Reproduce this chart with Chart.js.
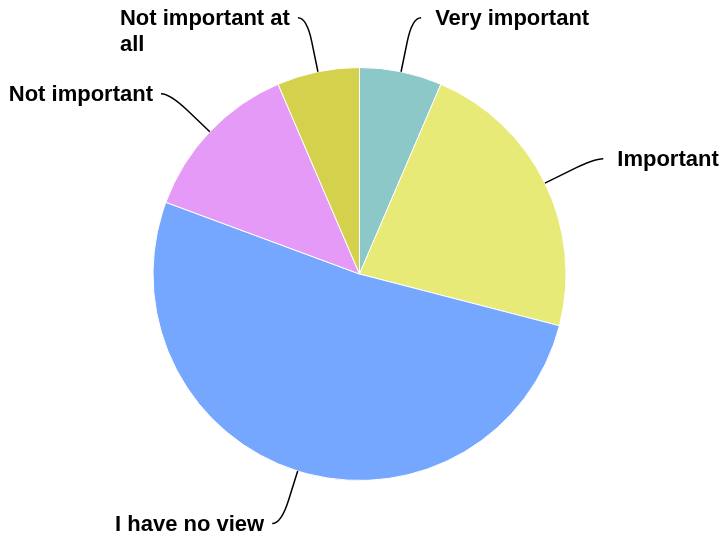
<!DOCTYPE html>
<html>
<head>
<meta charset="utf-8">
<script src="https://cdn.jsdelivr.net/npm/chart.js@4/dist/chart.umd.min.js"></script>
<style>
  html, body { margin: 0; padding: 0; background: #fff; }
  #wrap { width: 720px; height: 540px; position: relative; }
</style>
</head>
<body>
<div id="wrap"><canvas id="chart"></canvas></div>
<script>
// answers (clockwise from 12 o'clock)
const categories = ["Very important", "Important", "I have no view", "Not important", "Not important at all"];
const responses = [2, 7, 16, 4, 2];
const sliceColors = ["#8dc8c9", "#e8ea78", "#75a7ff", "#e59af7", "#d4d24c"];

const labelFont = "bold 22px 'Liberation Sans', Arial, sans-serif";
const lineHeight = 26;
const maxLabelWidth = 180;

// wrap a label into lines no wider than maxLabelWidth
function wrap(ctx, text) {
  const words = text.split(" ");
  const lines = [];
  let cur = "";
  words.forEach(w => {
    const test = cur ? cur + " " + w : w;
    if (cur && ctx.measureText(test).width > maxLabelWidth) {
      lines.push(cur);
      cur = w;
    } else {
      cur = test;
    }
  });
  if (cur) lines.push(cur);
  return lines;
}

// leader lines + labels outside the pie
const outsideLabels = {
  id: "outsideLabels",
  afterDraw(chart) {
    const ctx = chart.ctx;
    const arcs = chart.getDatasetMeta(0).data;
    ctx.save();
    ctx.font = labelFont;
    ctx.textBaseline = "middle";
    arcs.forEach((arc, i) => {
      const { x, y, outerRadius, startAngle, endAngle } = arc.getProps(["x", "y", "outerRadius", "startAngle", "endAngle"], true);
      const mid = (startAngle + endAngle) / 2;
      const cos = Math.cos(mid), sin = Math.sin(mid);
      const right = cos >= 0;
      const p0 = { x: x + cos * outerRadius, y: y + sin * outerRadius };
      const p1 = { x: x + cos * (outerRadius + 30), y: y + sin * (outerRadius + 30) };
      const bend = { x: x + cos * (outerRadius + 55), y: y + sin * (outerRadius + 55) };
      const end = { x: bend.x + (right ? 9 : -9), y: bend.y };

      ctx.beginPath();
      ctx.moveTo(p0.x, p0.y);
      ctx.lineTo(p1.x, p1.y);
      ctx.quadraticCurveTo(bend.x, bend.y, end.x, end.y);
      ctx.strokeStyle = "#000";
      ctx.lineWidth = 1.5;
      ctx.stroke();

      const lines = wrap(ctx, categories[i]);
      const blockW = Math.max(...lines.map(l => ctx.measureText(l).width));
      const gap = right ? 14 : 8;
      const left = right ? end.x + gap : end.x - gap - blockW;
      ctx.fillStyle = "#000";
      ctx.textAlign = "left";
      lines.forEach((l, k) => {
        const lx = (lines.length === 1 && !right) ? end.x - gap - ctx.measureText(l).width : left;
        ctx.fillText(l, lx, end.y + 1 + k * lineHeight);
      });
    });
    ctx.restore();
  }
};

new Chart(document.getElementById("chart"), {
  type: "pie",
  data: {
    labels: categories,
    datasets: [{
      data: responses,
      backgroundColor: sliceColors,
      borderColor: "#ffffff",
      borderWidth: 1
    }]
  },
  options: {
    responsive: true,
    maintainAspectRatio: false,
    animation: false,
    layout: { padding: { left: 152, right: 153, top: 67, bottom: 59 } },
    plugins: {
      legend: { display: false },
      tooltip: { enabled: false }
    }
  },
  plugins: [outsideLabels]
});
</script>
</body>
</html>
